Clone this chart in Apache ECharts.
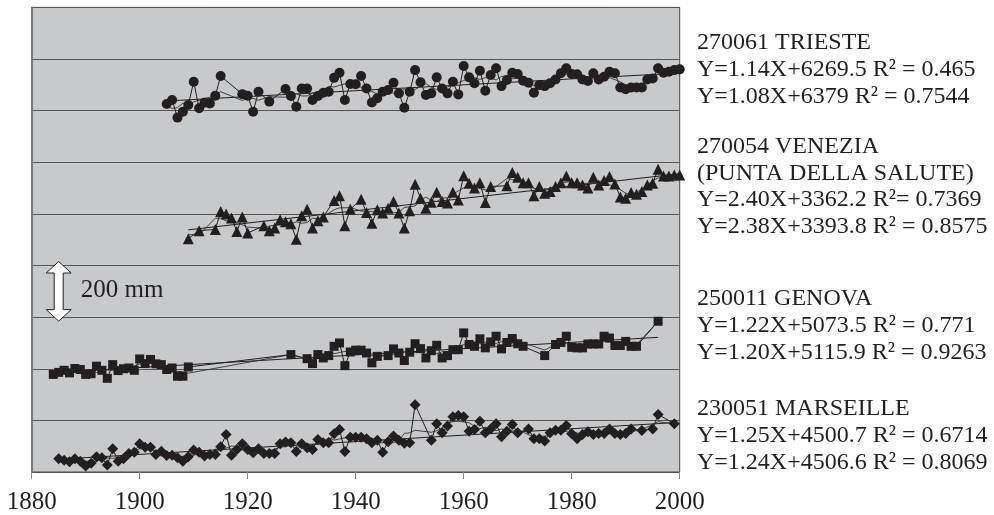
<!DOCTYPE html>
<html>
<head>
<meta charset="utf-8">
<script src="https://cdn.jsdelivr.net/npm/echarts/dist/echarts.min.js"></script>
<style>
html, body { margin: 0; padding: 0; background: #fff; }
#chartmain { width: 994px; height: 515px; }
</style>
</head>
<body>
<div id="chartmain"></div>
<script>
// x axis ticks (years)
var xTicks = [1880, 1900, 1920, 1940, 1960, 1980, 2000];

// annual mean sea level, mm (each station shifted on the common scale)
var triesteStart = 1905;
var trieste = [
    1426, 1441, 1373, 1396, 1422, 1512, 1409, 1431, 1428, 1458, // 1905
    1534, null, null, null, 1464, 1458, 1396, 1473, null, 1435, // 1915
    null, null, 1484, 1457, 1415, 1486, 1486, 1441, 1457, 1469, // 1925
    1473, 1527, 1547, 1441, 1503, 1502, 1534, 1486, 1432, 1448, // 1935
    1473, 1480, 1508, 1467, 1411, 1473, 1557, 1510, 1461, 1467, // 1945
    1529, 1486, 1467, 1512, 1463, 1573, 1529, 1506, 1555, 1477, // 1955
    1538, 1564, 1495, 1519, 1547, 1542, 1516, 1508, 1469, 1499, // 1965
    1495, 1506, 1521, 1545, 1564, 1542, 1541, 1521, 1515, 1545, // 1975
    1521, 1531, 1551, 1545, 1490, 1483, 1490, 1490, 1490, 1521, // 1985
    1525, 1564, 1547, 1551, 1557, 1560                          // 1995
];

var veneziaStart = 1909;
var venezia = [
    904, null, 935, null, null, 940, 1009, 1000, 984, 932,      // 1909
    988, 926, null, null, 954, 935, 945, 977, 970, 962,         // 1919
    902, 993, 1018, 945, 973, 988, null, 1052, 1070, 954,       // 1929
    1018, null, 1057, 1005, 964, 1016, 1003, 1022, 1048, 1003,  // 1939
    945, 1012, 1115, 1061, 1022, 1045, 1084, 1048, 1042, 1084,  // 1949
    1054, 1148, 1119, 1100, 1121, 1044, 1106, null, null, 1109, // 1959
    1160, 1142, 1121, 1121, 1070, 1106, 1080, 1087, 1106, 1121, // 1969
    1147, 1121, 1121, 1112, 1100, 1142, 1112, 1129, 1145, 1116, // 1979
    1065, 1061, 1083, 1076, 1087, 1112, 1119, 1173, 1147, 1147, // 1989
    1151, 1151                                                  // 1999
];

var genovaStart = 1884;
var genova = [
    378, 386, 394, 384, 401, 397, 378, 381, 410, 394,           // 1884
    363, 416, 393, 400, 403, 394, 438, 420, 436, 419,           // 1894
    416, 397, 403, 371, 371, 407, null, null, null, null,       // 1904
    null, null, null, null, null, null, null, null, null, null, // 1914
    null, null, null, null, 455, null, null, 439, 420, 455,     // 1924
    442, 451, 487, 500, 412, 465, 472, 472, 461, 423,           // 1934
    448, null, 451, 477, 461, 432, 464, 497, 478, 442,          // 1944
    470, 491, 442, 451, 474, 474, 539, 494, 487, 516,           // 1954
    481, 504, 526, 477, 502, 517, 497, 487, null, null,         // 1964
    null, 451, null, 494, 502, 526, 483, 481, 481, 496,         // 1974
    496, 496, 526, 519, 490, 490, 506, 487, 487, null,          // 1984
    null, null, 584                                             // 1994
];

var marseilleStart = 1885;
var marseille = [
    51, 46, 40, 51, 42, 23, 34, 59, 55, 27,            // 1885
    90, 42, 51, 72, 77, 109, 96, 96, 68, 80,           // 1895
    64, 65, 55, 42, 59, 85, 77, 62, 68, 68,            // 1905
    98, 145, 65, 87, 109, 87, 75, 90, 72, 72,          // 1915
    72, 109, 116, 113, 79, 109, 94, 87, 126, 113,      // 1925
    113, 148, 165, 79, 135, 135, 135, 129, 113, 123,   // 1935
    77, 117, 139, 123, 111, 113, 261, null, null, 123, // 1945
    187, 152, 178, 214, 219, 214, 158, 165, 197, 152,  // 1955
    167, 187, 137, 158, 184, 152, null, 167, 129, 129, // 1965
    120, 152, 162, 162, 180, 148, 129, 145, 156, 145,  // 1975
    149, 149, 167, 149, 145, 149, 167, null, 161, null,// 1985
    167, 223, null, null, 187                          // 1995
];

// texte a droite
var triesteText = ['270061 TRIESTE', 'Y=1.14X+6269.5 R² = 0.465', 'Y=1.08X+6379 R² = 0.7544'];
var veneziaText = ['270054 VENEZIA', '(PUNTA DELLA SALUTE)', 'Y=2.40X+3362.2 R²= 0.7369', 'Y=2.38X+3393.8 R² = 0.8575'];
var genovaText = ['250011 GENOVA', 'Y=1.22X+5073.5 R² = 0.771', 'Y=1.20X+5115.9 R² = 0.9263'];
var marseilleText = ['230051 MARSEILLE', 'Y=1.25X+4500.7 R² = 0.6714', 'Y=1.24X+4506.6 R² = 0.8069'];
var scaleText = '200 mm';
var scaleFrom = 600, scaleTo = 800, scaleYear = 1885;

var ink = '#231f20';
var serif = 'Liberation Serif';

// [year, value] pairs, gaps dropped
function toPairs(start, vals) {
    var out = [];
    for (var i = 0; i < vals.length; i++) {
        if (vals[i] != null) out.push([start + i, vals[i]]);
    }
    return out;
}
// 5-year running mean of the available years
function runMean(pairs) {
    var out = [];
    for (var i = 0; i < pairs.length; i++) {
        var s = 0, n = 0;
        for (var j = 0; j < pairs.length; j++) {
            if (Math.abs(pairs[j][0] - pairs[i][0]) <= 2) { s += pairs[j][1]; n++; }
        }
        out.push([pairs[i][0], s / n]);
    }
    return out;
}
// least squares line
function trendLine(pairs) {
    var n = pairs.length, sx = 0, sy = 0, sxx = 0, sxy = 0;
    pairs.forEach(function (p) { sx += p[0]; sy += p[1]; sxx += p[0] * p[0]; sxy += p[0] * p[1]; });
    var b = (n * sxy - sx * sy) / (n * sxx - sx * sx);
    var a = (sy - b * sx) / n;
    var x0 = pairs[0][0], x1 = pairs[n - 1][0];
    return [[x0, a + b * x0], [x1, a + b * x1]];
}

var stations = [
    { name: 'TRIESTE', data: toPairs(triesteStart, trieste), symbol: 'circle', size: 10 },
    { name: 'VENEZIA', data: toPairs(veneziaStart, venezia), symbol: 'triangle', size: 11 },
    { name: 'GENOVA', data: toPairs(genovaStart, genova), symbol: 'rect', size: 9 },
    { name: 'MARSEILLE', data: toPairs(marseilleStart, marseille), symbol: 'diamond', size: 11 }
];

var series = [];
stations.forEach(function (st) {
    series.push({
        type: 'line', data: trendLine(st.data), symbol: 'none', z: 2,
        lineStyle: { color: ink, width: 1 }, silent: true
    });
    series.push({
        type: 'line', data: runMean(st.data), symbol: 'none', z: 2,
        lineStyle: { color: '#333', width: 0.9 }, silent: true
    });
    series.push({
        type: 'line', name: st.name, data: st.data, z: 3,
        symbol: st.symbol, symbolSize: st.size, showSymbol: true,
        itemStyle: { color: ink, borderWidth: 0 },
        lineStyle: { color: ink, width: 1 }
    });
});

var myChart = echarts.init(document.getElementById('chartmain'));
var option = {
    animation: false,
    backgroundColor: '#fff',
    grid: {
        left: 31.7, right: 314.3, top: 7.4, bottom: 42.4,
        show: true, backgroundColor: '#c8c9cb', borderColor: '#4a4a4a', borderWidth: 1
    },
    xAxis: {
        type: 'value', min: xTicks[0], max: xTicks[xTicks.length - 1], interval: 20,
        axisLine: { show: false },
        axisTick: { show: true, length: 7, lineStyle: { color: '#8a8a8a' } },
        splitLine: { show: false },
        axisLabel: {
            color: ink, fontFamily: serif, fontSize: 25, margin: 18,
            formatter: function (v) { return String(v); }
        }
    },
    yAxis: {
        type: 'value', min: 0, max: 1800, interval: 200,
        axisLine: { show: true, lineStyle: { color: '#7a7a7a', width: 2 } },
        axisTick: { show: false },
        axisLabel: { show: false },
        splitLine: { show: true, lineStyle: { color: '#555', width: 1.2 } }
    },
    series: series
};
myChart.setOption(option);

// right-hand text and the 200 mm arrow
var graphics = [];
function addBlock(lines, y0) {
    lines.forEach(function (t, i) {
        graphics.push({
            type: 'text', x: 697, y: y0 + i * 26.8,
            style: { text: t, fill: ink, fontFamily: serif, fontSize: 24, align: 'left', verticalAlign: 'middle' }
        });
    });
}
addBlock(triesteText, 43);
addBlock(veneziaText, 146.5);
addBlock(genovaText, 299);
addBlock(marseilleText, 409);

var pTop = myChart.convertToPixel({ gridIndex: 0 }, [scaleYear, scaleTo]);
var pBot = myChart.convertToPixel({ gridIndex: 0 }, [scaleYear, scaleFrom]);
var cx = pTop[0], yt = pTop[1], yb = pBot[1];
graphics.push({
    type: 'polygon', z: 10,
    shape: { points: [
        [cx, yt - 4], [cx + 12.5, yt + 7.5], [cx + 4.5, yt + 7.5], [cx + 4.5, yb - 7.5],
        [cx + 12.5, yb - 7.5], [cx, yb + 4], [cx - 12.5, yb - 7.5], [cx - 4.5, yb - 7.5],
        [cx - 4.5, yt + 7.5], [cx - 12.5, yt + 7.5]
    ] },
    style: { fill: '#fff', stroke: ink, lineWidth: 1 }
});
graphics.push({
    type: 'text', z: 10, x: cx + 22, y: (yt + yb) / 2 - 1,
    style: { text: scaleText, fill: ink, fontFamily: serif, fontSize: 25, align: 'left', verticalAlign: 'middle' }
});
myChart.setOption({ graphic: graphics });
</script>
</body>
</html>
